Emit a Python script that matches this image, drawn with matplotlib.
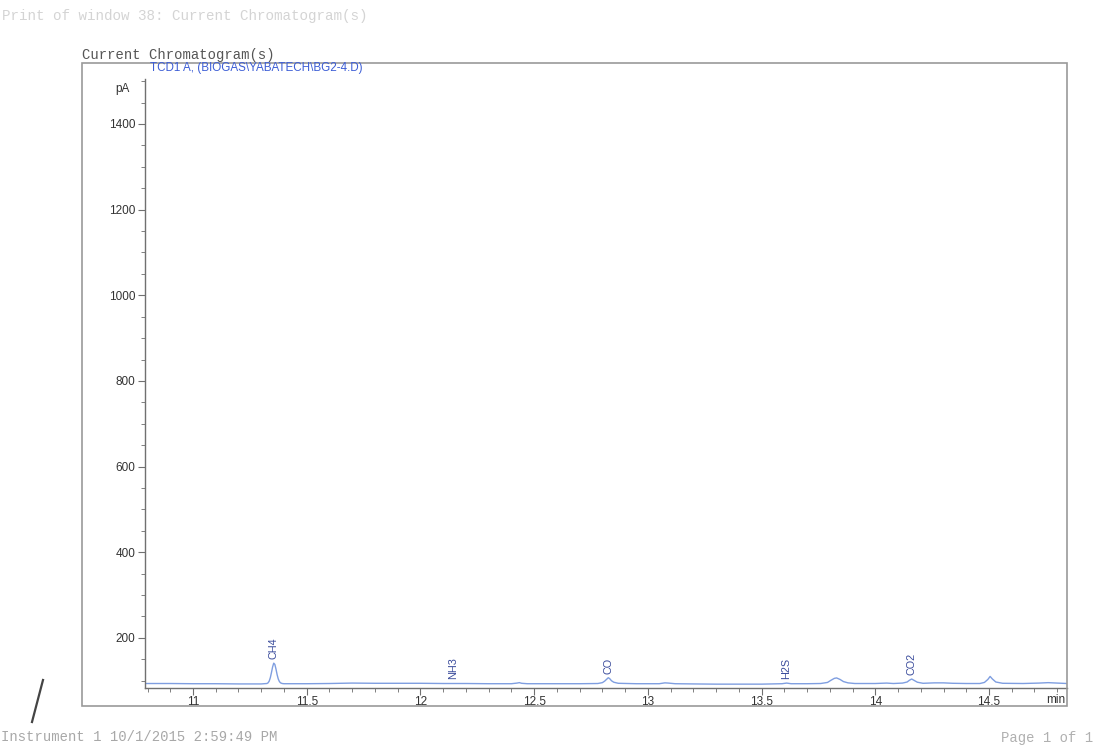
import matplotlib
matplotlib.use("Agg")
import matplotlib.pyplot as plt
from matplotlib.ticker import MultipleLocator
from matplotlib.patches import Rectangle
from matplotlib.lines import Line2D

# ---- data ----
time_min = [10.79, 10.9, 11.0, 11.1, 11.2, 11.3, 11.325, 11.330, 11.335, 11.340,
            11.345, 11.350, 11.355, 11.360, 11.365, 11.370, 11.375, 11.380, 11.385,
            11.392, 11.40, 11.5, 11.6, 11.7, 11.8, 11.9, 12.0, 12.1, 12.2, 12.3,
            12.40, 12.425, 12.435, 12.445, 12.47, 12.6, 12.7, 12.78, 12.80, 12.81,
            12.82, 12.826, 12.832, 12.84, 12.85, 12.87, 12.95, 13.05, 13.075, 13.09,
            13.12, 13.2, 13.3, 13.4, 13.5, 13.59, 13.61, 13.63, 13.7, 13.76, 13.79,
            13.805, 13.82, 13.83, 13.845, 13.86, 13.88, 13.91, 14.0, 14.05, 14.08,
            14.12, 14.14, 14.15, 14.16, 14.17, 14.185, 14.21, 14.26, 14.30, 14.34,
            14.4, 14.46, 14.48, 14.495, 14.505, 14.515, 14.53, 14.56, 14.65, 14.72,
            14.76, 14.80, 14.843]
signal_pa = [93.5, 93.5, 93.0, 93.0, 92.5, 92.5, 93.5, 95, 99, 107,
             119, 132, 141, 138, 127, 114, 104, 98, 95,
             93.5, 93.0, 93.0, 93.5, 94.5, 94.0, 94.0, 94.0, 93.5, 93.5, 93.0,
             93.0, 94.5, 95.5, 94.0, 93.0, 93.0, 93.0, 93.5, 95.5, 99,
             104, 107, 105, 100, 96.5, 94.0, 93.0, 93.0, 95.0, 94.5,
             93.0, 92.5, 92.0, 92.0, 92.0, 93.0, 94.5, 93.0, 93.0, 93.5, 96,
             101, 105.5, 106.5, 103, 98, 95, 93.5, 93.5, 94.5, 93.5,
             94.5, 97, 101, 104, 101, 96.5, 94.0, 95.0, 95.0, 94.0,
             93.5, 93.5, 96, 103, 110, 104, 97, 94.0, 93.5, 94.5,
             95.5, 94.5, 93.5]

peak_names = ["CH4", "NH3", "CO", "H2S", "CO2"]
peak_times = [11.355, 12.146, 12.826, 13.608, 14.160]

x_major_ticks = [11, 11.5, 12, 12.5, 13, 13.5, 14, 14.5]
x_tick_labels = ["11", "11.5", "12", "12.5", "13", "13.5", "14", "14.5"]
y_major_ticks = [200, 400, 600, 800, 1000, 1200, 1400]

# ---- figure ----
W, H = 1095, 746
fig = plt.figure(figsize=(W / 100, H / 100), dpi=100)
fig.patch.set_facecolor("white")
plt.rcParams["font.family"] = ["Liberation Sans", "DejaVu Sans"]

def fx(px):
    return px / W

def fy(py):
    return 1 - py / H

# outer frame
frame = Rectangle((fx(82), fy(706)), fx(1067) - fx(82), fy(63) - fy(706),
                  transform=fig.transFigure, fill=False, edgecolor="#9a9a9a",
                  linewidth=1.2)
fig.add_artist(frame)

ax = fig.add_axes([fx(145), fy(688), fx(1067) - fx(145), fy(79) - fy(688)])
ax.set_facecolor("none")
ax.plot(time_min, signal_pa, color="#7f9ee0", linewidth=1.0)

ax.set_xlim(10.789, 14.843)
ax.set_ylim(83, 1505)

for s in ["top", "right"]:
    ax.spines[s].set_visible(False)
for s in ["left", "bottom"]:
    ax.spines[s].set_color("#707070")
    ax.spines[s].set_linewidth(1.0)

ax.set_xticks(x_major_ticks)
ax.set_xticklabels(x_tick_labels)
ax.xaxis.set_minor_locator(MultipleLocator(0.1))
ax.set_yticks(y_major_ticks)
ax.yaxis.set_minor_locator(MultipleLocator(50))
ax.tick_params(axis="both", which="major", direction="out", length=5,
               width=0.8, color="#707070", labelsize=8.5, labelcolor="#333333")
ax.tick_params(axis="both", which="minor", direction="out", length=3,
               width=0.7, color="#808080")
ax.tick_params(axis="x", which="major", pad=1)
ax.tick_params(axis="y", which="major", pad=2)

# peak labels
for name, t in zip(peak_names, peak_times):
    yv = None
    for i in range(len(time_min) - 1):
        if time_min[i] <= t <= time_min[i + 1]:
            yv = max(signal_pa[i], signal_pa[i + 1])
            break
    ax.annotate(name, xy=(t, yv), xytext=(0, 3), textcoords="offset points",
                rotation=90, ha="center", va="bottom", fontsize=7.8,
                color="#3b4c9c")

# axis unit labels
fig.text(fx(122), fy(89), "pA", ha="center", va="center", fontsize=8.5,
         color="#333333")
fig.text(fx(1065), fy(700), "min", ha="right", va="center", fontsize=8.5,
         color="#333333")

# header texts
fig.text(fx(150), fy(68), "TCD1 A, (BIOGAS\\YABATECH\\BG2-4.D)", ha="left",
         va="center", fontsize=8.4, color="#3d5ed6")
fig.text(fx(82), fy(55), "Current Chromatogram(s)", ha="left", va="center",
         fontsize=10, color="#555555", family="Liberation Mono")
fig.text(fx(2), fy(16), "Print of window 38: Current Chromatogram(s)",
         ha="left", va="center", fontsize=10.3, color="#d4d4d4",
         family="Liberation Mono")

# footer texts
fig.text(fx(1), fy(737), "Instrument 1 10/1/2015 2:59:49 PM", ha="left",
         va="center", fontsize=10, color="#a8a8a8", family="Liberation Mono")
fig.text(fx(1093), fy(738), "Page 1 of 1", ha="right", va="center",
         fontsize=10, color="#b0b0b0", family="Liberation Mono")

# pen stroke on the scanned page
fig.add_artist(Line2D([fx(43), fx(32)], [fy(680), fy(722)],
                      transform=fig.transFigure, color="#444444", linewidth=1.6))

fig.savefig("out.png", dpi=100, facecolor="white")
